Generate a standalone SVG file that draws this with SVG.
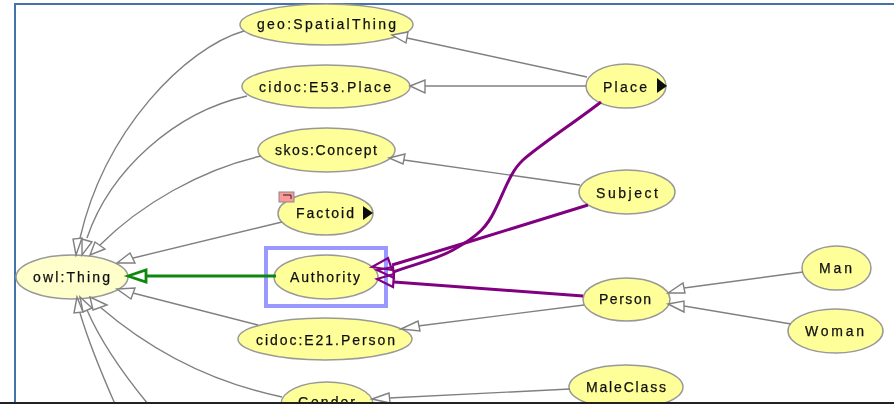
<svg xmlns="http://www.w3.org/2000/svg" width="894" height="404" viewBox="0 0 894 404">
<defs><filter id="soft" filterUnits="userSpaceOnUse" x="0" y="0" width="894" height="404"><feGaussianBlur stdDeviation="0.4"/></filter></defs>
<style>
text{font-family:"Liberation Sans",Arial,sans-serif;font-size:14px;text-anchor:middle;fill:#111;stroke:#111;stroke-width:.25}
.n{fill:#ffff99;stroke:#999;stroke-width:1.5}
.t{fill:#ffffcc;stroke:#999;stroke-width:1.5}
.g{fill:none;stroke:#808080;stroke-width:1.4}
.p{fill:none;stroke:#800080;stroke-width:3}
.h{fill:#fff;stroke:#808080;stroke-width:1.4}
.ph{fill:none;stroke:#800080;stroke-width:2.2}
</style>
<rect width="894" height="404" fill="#fff"/>
<g filter="url(#soft)">
<path d="M15 403V4H894" fill="none" stroke="#4472a8" stroke-width="2"/>
<g id="geo-spatialthing"><ellipse class="n" cx="326.500" cy="24.500" rx="86.500" ry="20.500"/><text x="326.500" y="29" textLength="139">geo:SpatialThing</text></g>
<g id="cidoc-e53"><ellipse class="n" cx="326" cy="86.500" rx="84" ry="21.500"/><text x="325" y="92" textLength="132">cidoc:E53.Place</text></g>
<g id="skos-concept"><ellipse class="n" cx="326.500" cy="150" rx="68.500" ry="22"/><text x="326" y="155" textLength="102">skos:Concept</text></g>
<g id="factoid"><ellipse class="n" cx="325.500" cy="213.500" rx="47.500" ry="21.500"/><text x="325" y="218" textLength="58">Factoid</text><path d="M363 206L373 213 363 220Z" fill="#111"/><rect x="279" y="192" width="15" height="10" fill="#ff9999" stroke="#888"/><path d="M283 195H291V199" fill="none" stroke="#222"/></g>
<g id="authority"><rect x="266" y="248" width="120" height="58" fill="none" stroke="#9999ff" stroke-width="4"/><ellipse class="n" cx="326" cy="277" rx="52" ry="22"/><text x="325" y="282" textLength="70">Authority</text></g>
<g id="cidoc-e21"><ellipse class="n" cx="325" cy="339" rx="87" ry="21"/><text x="325.500" y="345" textLength="139">cidoc:E21.Person</text></g>
<g id="gender"><ellipse class="n" cx="327" cy="404" rx="46" ry="22"/><text x="326.500" y="407" textLength="57">Gender</text></g>
<g id="owl-thing"><ellipse class="t" cx="72" cy="277" rx="56" ry="22"/><text x="71.500" y="282" textLength="77">owl:Thing</text></g>
<g id="place"><ellipse class="n" cx="626" cy="86" rx="40" ry="22"/><text x="625" y="92" textLength="44">Place</text><path d="M657 78L667 86 657 93Z" fill="#111"/></g>
<g id="subject"><ellipse class="n" cx="627" cy="192" rx="48" ry="22"/><text x="627" y="198" textLength="62">Subject</text></g>
<g id="person"><ellipse class="n" cx="626.500" cy="299.500" rx="43.500" ry="21.500"/><text x="625" y="304" textLength="52">Person</text></g>
<g id="man"><ellipse class="n" cx="836.500" cy="268" rx="34.500" ry="22"/><text x="835.500" y="273" textLength="33">Man</text></g>
<g id="woman"><ellipse class="n" cx="835.500" cy="331" rx="47.500" ry="22"/><text x="834.500" y="336" textLength="59">Woman</text></g>
<g id="maleclass"><ellipse class="n" cx="626" cy="387" rx="57" ry="22"/><text x="626" y="392" textLength="80">MaleClass</text></g>
<g id="connectors">
<path class="g" d="M244 31C185 48 105 130 80 238"/>
<path class="g" d="M247 96C175 112 110 170 87 238"/>
<path class="g" d="M261 156C200 170 140 205 100 245"/>
<path class="g" d="M282 222L125 260"/>
<path class="g" d="M258 325L125 291"/>
<path class="g" d="M282 397C210 382 150 350 100 307"/>
<path class="g" d="M148 404C120 370 100 340 87 310"/>
<path class="g" d="M115 404C100 370 88 340 80 313"/>
<path class="h" d="M76 255L73 239 82 238Z"/><path class="h" d="M82 255L82 239 92 242Z"/><path class="h" d="M90 255L95 242 105 249Z"/>
<path class="h" d="M117 263L130 253 135 263Z"/>
<path class="h" d="M117 289L135 288 131 299Z"/>
<path class="h" d="M77 297L74 313 83 312Z"/><path class="h" d="M80 297L83 312 92 308Z"/><path class="h" d="M90 297L93 310 107 305Z"/>
<path class="g" d="M587 77L407 38"/><path class="h" d="M392 35L408 32 406 43Z"/>
<path class="g" d="M586 86H425"/><path class="h" d="M410 86L425 80V93Z"/>
<path class="g" d="M580 185L404 160"/><path class="h" d="M389 158L405 154 403 164Z"/>
<path class="g" d="M584 305L418 326"/><path class="h" d="M401 329L418 321 420 331Z"/>
<path class="g" d="M803 272L684 288"/><path class="h" d="M668 293L683 283 685 293Z"/>
<path class="g" d="M791 324L684 306"/><path class="h" d="M668 304L684 301 684 312Z"/>
<path class="g" d="M570 389L389 398"/><path class="h" d="M372 399L389 393 390 403Z"/>
<path d="M276 276H146" fill="none" stroke="#118811" stroke-width="2.800"/>
<path d="M128 276L146 270V282Z" fill="#fff" stroke="#118811" stroke-width="2.800"/>
<path class="p" d="M601 102C575 122 540 145 523 160C510 172 505 190 495 210C488 225 480 235 453 250C435 260 415 264 393 272"/>
<path class="p" d="M588 205L465 243L392 265"/>
<path class="p" d="M583 296L394 282"/>
<path class="ph" d="M372 267L388 258 392 270Z"/><path class="ph" d="M377 270L393 267 394 278Z"/><path class="ph" d="M377 279L394 274 393 287Z"/>
</g>
</g>
<rect x="0" y="402" width="894" height="2" fill="#222"/>
</svg>
